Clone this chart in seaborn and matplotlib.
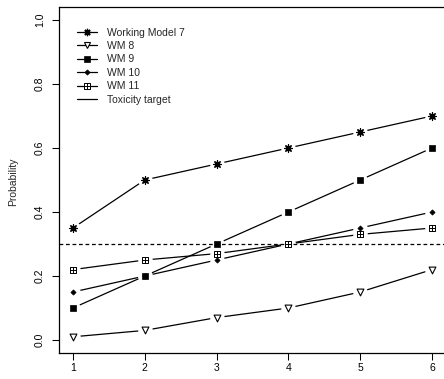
import matplotlib
matplotlib.use("Agg")
import matplotlib.pyplot as plt
import seaborn as sns
import pandas as pd
import numpy as np
from matplotlib.path import Path
from matplotlib.lines import Line2D

# ---- data ----
doses = [1, 2, 3, 4, 5, 6]
wm7 = [0.35, 0.50, 0.55, 0.60, 0.65, 0.70]
wm8 = [0.01, 0.03, 0.07, 0.10, 0.15, 0.22]
wm9 = [0.10, 0.20, 0.30, 0.40, 0.50, 0.60]
wm10 = [0.15, 0.20, 0.25, 0.30, 0.35, 0.40]
wm11 = [0.22, 0.25, 0.27, 0.30, 0.33, 0.35]
target = 0.30
series_names = ["Working Model 7", "WM 8", "WM 9", "WM 10", "WM 11"]
target_label = "Toxicity target"
y_ticks = [0.0, 0.2, 0.4, 0.6, 0.8, 1.0]
y_label = "Probability"

sns.set_style("ticks")
plt.rcParams['font.family'] = ['Liberation Sans', 'DejaVu Sans']
FS = 7.5

# square-with-plus marker (R pch 12)
boxplus = Path(
    [(-1, -1), (1, -1), (1, 1), (-1, 1), (-1, -1),
     (0, -1), (0, 1), (-1, 0), (1, 0)],
    [Path.MOVETO, Path.LINETO, Path.LINETO, Path.LINETO, Path.CLOSEPOLY,
     Path.MOVETO, Path.LINETO, Path.MOVETO, Path.LINETO])

styles = {
    "Working Model 7": dict(marker=(8, 2, 0), s=28, fc="black", lw=0.9),
    "WM 8": dict(marker="v", s=24, fc="white", lw=0.8),
    "WM 9": dict(marker="s", s=17, fc="black", lw=0.5),
    "WM 10": dict(marker="D", s=7, fc="black", lw=0.5),
    "WM 11": dict(marker=boxplus, s=15, fc="white", lw=0.7),
}

df = pd.DataFrame({
    "dose": doses * 5,
    "prob": wm7 + wm8 + wm9 + wm10 + wm11,
    "model": sum([[n] * len(doses) for n in series_names], []),
})

W, H = 444, 379
fig = plt.figure(figsize=(W / 100, H / 100), dpi=100)
ax = fig.add_axes([58.6 / W, 26.2 / H, (446.4 - 58.6) / W, (352.8 - 7.2) / H])

# lines
sns.lineplot(data=df, x="dose", y="prob", units="model", estimator=None,
             color="black", lw=0.9, ax=ax, zorder=2, legend=False)
# gaps around points (R type="b")
sns.scatterplot(data=df, x="dose", y="prob", marker="o", s=110, color="white",
                linewidth=0, ax=ax, zorder=3, legend=False)
# target line
ax.axhline(target, color="black", lw=0.9, ls=(0, (3.0, 2.2)), zorder=4)
# markers
for name in series_names:
    st = styles[name]
    sub = df[df["model"] == name]
    sns.scatterplot(data=sub, x="dose", y="prob", marker=st["marker"], s=st["s"],
                    facecolor=st["fc"], edgecolor="black", linewidth=st["lw"],
                    ax=ax, zorder=5, legend=False)

ax.set_xlim(0.8, 6.2)
ax.set_ylim(-0.04, 1.04)
ax.set_xticks(doses)
ax.set_xticklabels([str(d) for d in doses], fontsize=FS)
ax.set_yticks(y_ticks)
ax.set_yticklabels([f"{v:.1f}" for v in y_ticks], fontsize=FS, rotation=90, va="center")
ax.set_xlabel("")
ax.set_ylabel("")
ax.tick_params(axis="x", direction="out", length=5, width=0.75, pad=2.5, colors="black")
ax.tick_params(axis="y", direction="out", length=5, width=0.75, pad=5.0, colors="black")
for sp in ax.spines.values():
    sp.set_visible(True)
    sp.set_linewidth(0.9)
    sp.set_color("black")

fig.text(13 / W, 1 - 182 / H, y_label, rotation=90, ha="center", va="center", fontsize=FS)

# legend
handles = []
for name in series_names:
    st = styles[name]
    ms = np.sqrt(st["s"])
    handles.append(Line2D([0], [0], color="black", lw=0.9, marker=st["marker"],
                          markersize=ms, markerfacecolor=st["fc"],
                          markeredgecolor="black", markeredgewidth=st["lw"]))
handles.append(Line2D([0], [0], color="black", lw=0.9))
leg = ax.legend(handles, series_names + [target_label], loc="upper left",
                bbox_to_anchor=(77 / W, 1 - 27.5 / H), bbox_transform=fig.transFigure,
                frameon=False, fontsize=FS, handlelength=1.95, handletextpad=0.95,
                labelspacing=0.33, borderpad=0, borderaxespad=0)

fig.savefig("out.png", dpi=100)
